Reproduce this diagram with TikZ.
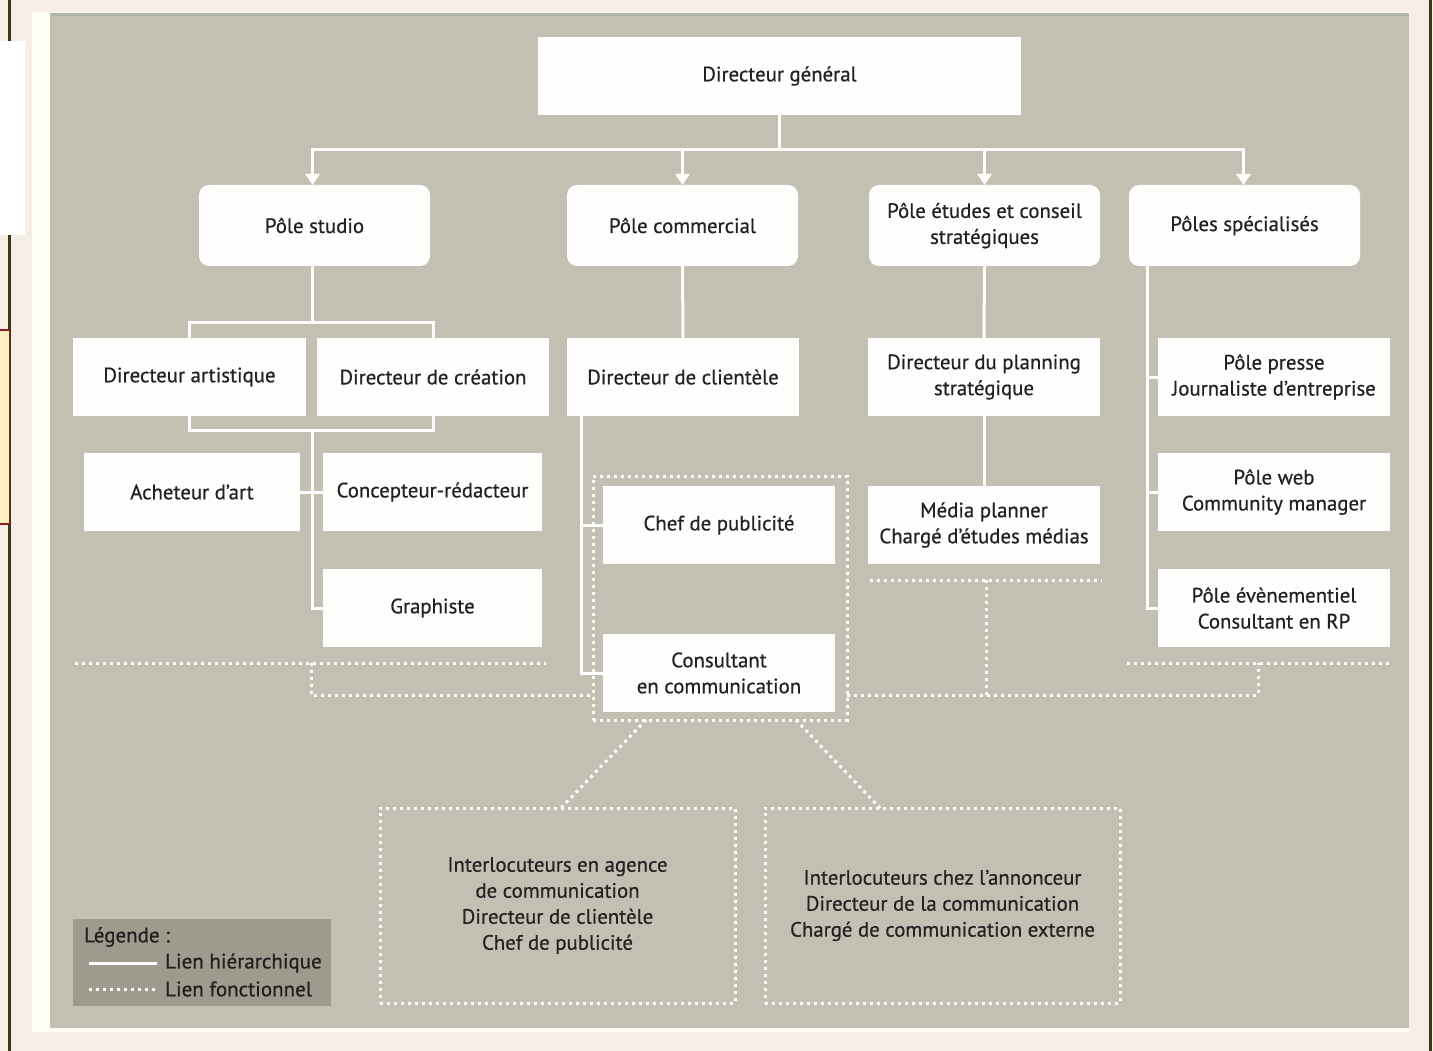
\documentclass[tikz,border=0pt]{standalone}
\usepackage{fontspec}
\setmainfont{PT Sans}
\newfontfamily\boxfont{PT Sans}[FakeBold=0.6]
\usetikzlibrary{arrows.meta}
\definecolor{pagebg}{HTML}{F7EDE7}
\definecolor{panelc}{HTML}{C3C0B3}
\definecolor{legbg}{HTML}{9E9A8D}
\definecolor{txt}{HTML}{222222}
\definecolor{rulec}{HTML}{3A3A12}
\definecolor{orfill}{HTML}{FFF0C2}
\definecolor{orline}{HTML}{8E1B14}
\definecolor{boxw}{HTML}{FEFEFC}
\pgfdeclarelayer{bgl}\pgfdeclarelayer{lines}\pgfsetlayers{bgl,lines,main}
\begin{document}
\begin{tikzpicture}[x=1pt,y=-1pt,
  box/.style={fill=boxw,draw=none,inner sep=0pt,outer sep=0pt,align=center,text=txt,
    font=\boxfont\fontsize{20.8}{26}\selectfont,minimum width=232,minimum height=78},
  pole/.style={box,rounded corners=10pt,minimum width=231,minimum height=81},
  hier/.style={draw=boxw,line width=3pt},
  harrow/.style={hier,-{Triangle[width=14pt,length=11pt]}},
  func/.style={draw=boxw,line width=3pt,dash pattern=on 3pt off 4pt},
  fbox/.style={func,inner sep=0pt,outer sep=0pt,align=center,text=txt,
    font=\boxfont\fontsize{20.8}{26}\selectfont},
  legtxt/.style={inner sep=0pt,anchor=west,text=black!88,font=\boxfont\fontsize{21}{22}\selectfont}]
\useasboundingbox (0,0) rectangle (1433,1051);
% page background and artefacts
\begin{pgfonlayer}{bgl}
\fill[pagebg] (0,0) rectangle (1433,1051);
\fill[rulec] (8,0) rectangle (11,41);
\fill[rulec] (8,235) rectangle (11,1051);
\fill[rulec] (1429,0) rectangle (1432,1051);
\fill[white] (0,41) rectangle (25,235);
\filldraw[fill=orfill,draw=orline,line width=1.5pt] (-2,330) rectangle (9.5,524);
\fill[white!96!yellow] (32,12) rectangle (1409,1032);
\fill[panelc] (50,13) rectangle (1409,1028);
\fill[panelc!92!black] (50,13) rectangle (1409,16);
\end{pgfonlayer}

% top levels
\node[box,minimum width=483] (dg) at (779.5,76) {Directeur général};
\node[pole] (ps) at (314.5,225.5) {Pôle studio};
\node[pole] (pc) at (682.5,225.5) {Pôle commercial};
\node[pole] (pe) at (984.5,225.5) {Pôle études et conseil\\stratégiques};
\node[pole] (pp) at (1244.5,225.5) {Pôles spécialisés};

% studio
\node[box,minimum width=233] (da) at (189.5,377) {Directeur artistique};
\node[box] (dc) at (433,377) {Directeur de création};
\node[box,minimum width=216] (aa) at (192,492) {Acheteur d’art};
\node[box,minimum width=219] (cr) at (432.5,492) {Concepteur-rédacteur};
\node[box,minimum width=219] (gr) at (432.5,608) {Graphiste};

% commercial
\node[box] (dcl) at (683,377) {Directeur de clientèle};
\node[box] (chef) at (719,525) {Chef de publicité};
\node[box] (cons) at (719,673) {Consultant\\en communication};
\node[fbox,minimum width=254,minimum height=244] (fgrp) at (720,598) {};

% etudes
\node[box] (dps) at (984,377) {Directeur du planning\\stratégique};
\node[box] (med) at (984,525) {Média planner\\Chargé d’études médias};

% specialises
\node[box] (pre) at (1274,377) {Pôle presse\\Journaliste d’entreprise};
\node[box] (web) at (1274,492) {Pôle web\\Community manager};
\node[box] (eve) at (1274,608) {Pôle évènementiel\\Consultant en RP};

% lower boxes
\node[fbox,minimum width=355,minimum height=195] (agb) at (557.5,905.5)
  {Interlocuteurs en agence\\de communication\\Directeur de clientèle\\Chef de publicité};
\node[fbox,minimum width=355,minimum height=195] (anb) at (942.5,905.5)
  {Interlocuteurs chez l’annonceur\\Directeur de la communication\\Chargé de communication externe};

% coordinates
\coordinate (hb) at (dg.south |- 0,150);
\coordinate (pst) at ([xshift=-2pt]ps.south);
\coordinate (bt) at (pst |- 0,322);
\coordinate (bb) at (pst |- 0,430);
\coordinate (cl) at ([xshift=14pt]dcl.south west);
\coordinate (sl) at ([xshift=18pt]pp.south west);
\coordinate (f1) at (75,663);
\coordinate (f2) at (546,663);
\coordinate (f3) at (311,663);
\coordinate (f4) at (311,695);
\coordinate (f6) at (1258,695);
\coordinate (f7) at (1258,663);
\coordinate (f8) at (1127,663);
\coordinate (f9) at (1390,663);
\coordinate (f10) at (870,580);
\coordinate (f11) at (1102,580);
\coordinate (f12) at (986,580);

\begin{pgfonlayer}{lines}
% hierarchical links
\draw[hier] (dg.south) -- (hb);
\draw[harrow] (hb) -| (pst |- ps.north);
\draw[harrow] (hb) -| (pc.north);
\draw[harrow] (hb) -| (pe.north);
\draw[harrow] (hb) -| ([xshift=-1pt]pp.north);
\draw[hier] (pst) -- (bt);
\draw[hier] (da.center |- bt) rectangle (dc.center |- bb);
\draw[hier] (bb) |- (gr.west);
\draw[hier] (aa.east) -- (cr.west);
\draw[hier] (pc.south) -- (dcl.north);
\draw[hier] (cl) |- (cons.west);
\draw[hier] (cl |- chef.west) -- (chef.west);
\draw[hier] (pe.south) -- (dps.north);
\draw[hier] (dps.south) -- (med.north);
\draw[hier] (sl) |- (eve.west);
\draw[hier] (sl |- pre.west) -- (pre.west);
\draw[hier] (sl |- web.west) -- (web.west);
% functional links
\draw[func] (f1) -- (f2);
\draw[func] (f3) -- (f4) -- (fgrp.west |- f4);
\draw[func] (fgrp.east |- f6) -- (f6) -- (f7);
\draw[func] (f8) -- (f9);
\draw[func] (f10) -- (f11);
\draw[func] (f12) -- (f12 |- f6);
\draw[func] ([xshift=53pt]fgrp.south west) -- ([xshift=181pt]agb.north west);
\draw[func] ([xshift=-51pt]fgrp.south east) -- ([xshift=115pt]anb.north west);
\end{pgfonlayer}

% legend
\node[fill=legbg,inner sep=0pt,outer sep=0pt,minimum width=258,minimum height=87] (leg) at (202,962.5) {};
\node[legtxt] (lgt) at (84,937) {Légende :};
\node[legtxt] (lh) at (165,963) {Lien hiérarchique};
\node[legtxt] (lf) at (165,989) {Lien fonctionnel};
\coordinate (lh0) at (89,963);
\coordinate (lf0) at (89,989);
\draw[hier] (lh0) -- ([xshift=-8pt]lh.west);
\draw[func] (lf0) -- ([xshift=-8pt]lf.west);
\end{tikzpicture}
\end{document}
